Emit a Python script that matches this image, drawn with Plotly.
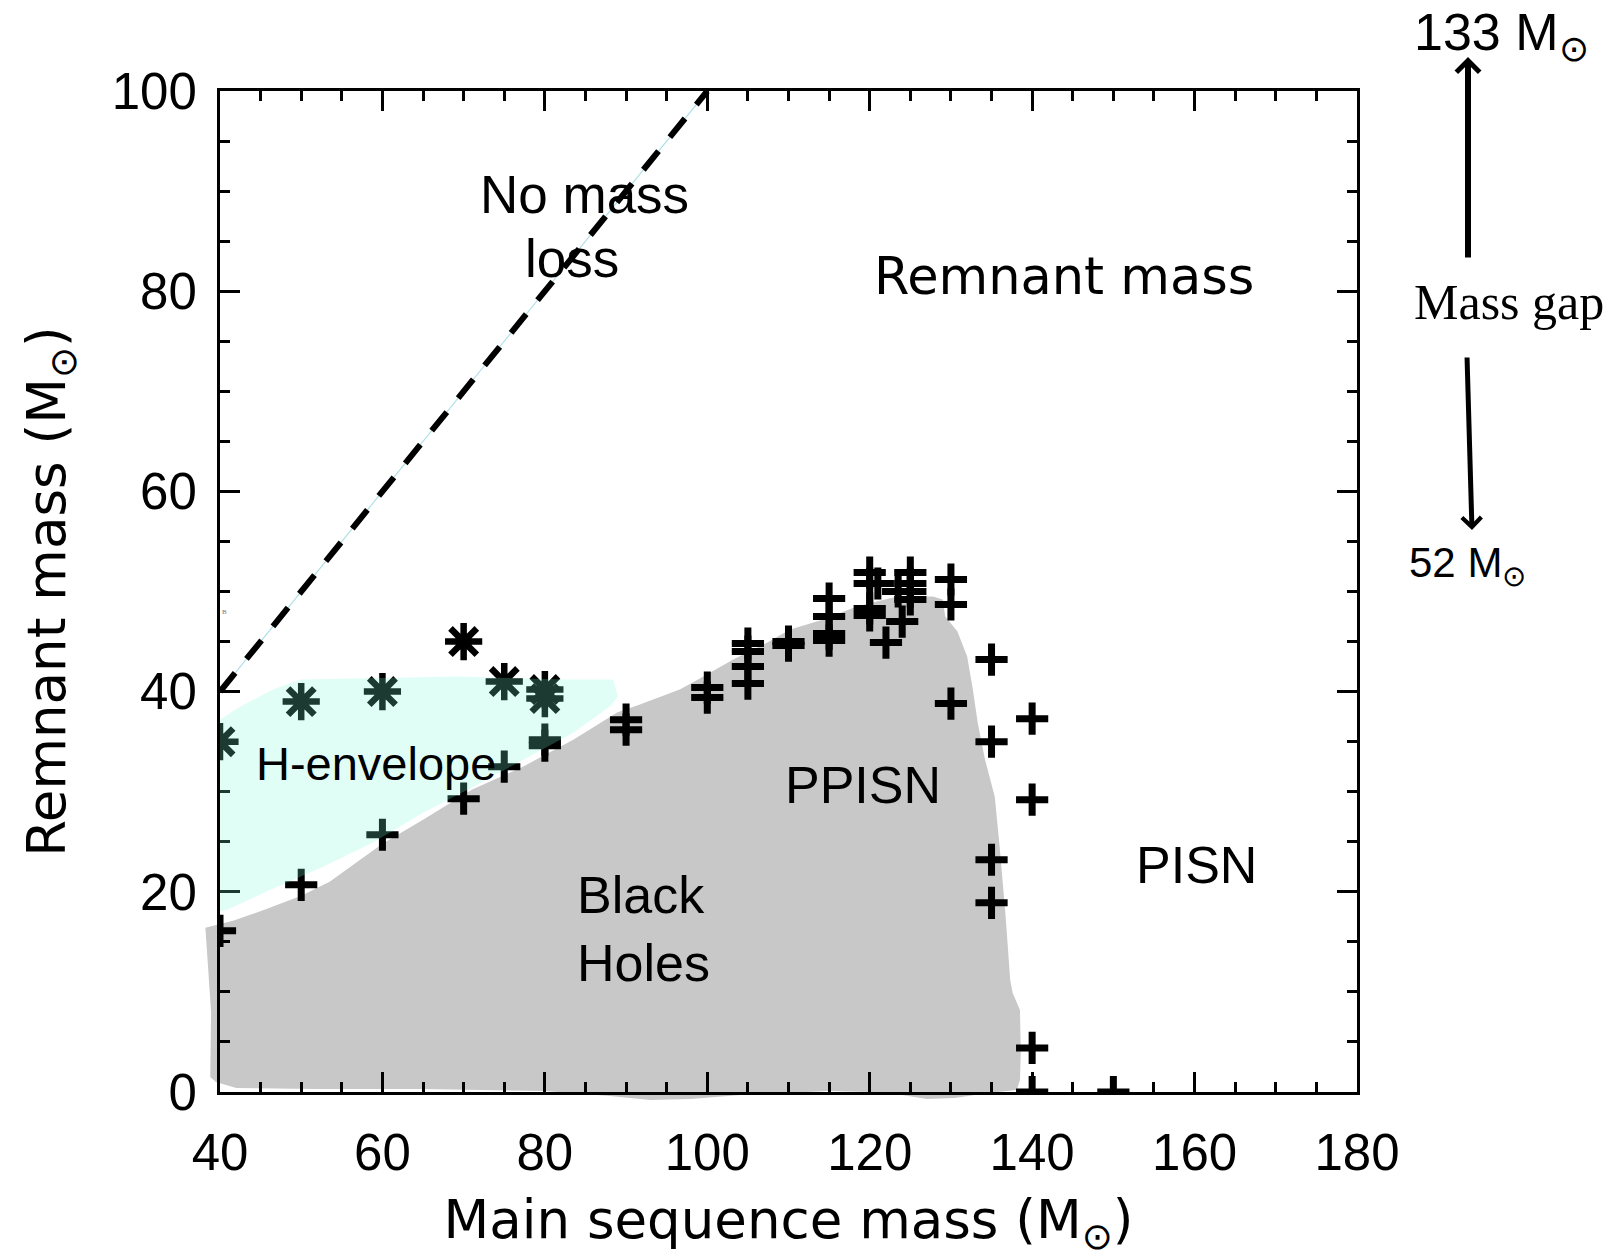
import plotly.graph_objects as go

# ---------------- data ----------------
# '+' models (main sequence mass, remnant mass)
plus_x = [40, 50, 60, 70, 75, 80, 80, 90, 90, 100, 100,
          105, 105, 105, 105, 110, 110,
          115, 115, 115, 115, 120, 120, 120, 120, 121, 122, 123.5, 124,
          125, 125, 125, 125, 130, 130, 130,
          135, 135, 135, 135, 140, 140, 140, 140, 150]
plus_y = [16.1, 20.7, 25.7, 29.3, 32.5, 35.2, 34.6, 37.2, 36.2, 40.4, 39.4,
          44.8, 44.0, 42.5, 40.8, 45.0, 44.6,
          49.3, 47.5, 45.8, 45.1, 51.9, 50.8, 48.3, 47.6, 50.8, 44.9, 50.0, 47.0,
          51.9, 50.8, 50.0, 49.2, 51.2, 48.7, 38.8,
          43.2, 35.0, 23.2, 18.9, 37.3, 29.2, 4.4, 0.0, 0.0]

# '*' models
ast_x = [40, 50, 60, 70, 75, 80, 80]
ast_y = [35.0, 39.0, 40.0, 45.0, 41.0, 40.2, 39.3]

# "No mass loss" line (remnant = main sequence mass)
diag_x = [40, 100]
diag_y = [40, 100]

# Black-hole (grey) region outline
bh_x = [38.2, 41.6, 45.8, 50.0, 53.5, 57.0, 60.0, 65.0, 71.0, 77.3, 83.5, 88.9, 91.7,
        96.6, 98.2, 103.2, 107.4, 110.2, 114.3, 118.4, 122.9, 127.8, 129.0, 129.3,
        130.8, 132.0, 132.7, 133.3, 134.2, 135.4, 136.0, 136.7, 137.3, 137.6, 138.5,
        138.6, 138.5, 138.1, 134.5, 130.5, 127.0, 124.0, 120.0, 115.0, 110.0, 104.0,
        98.0, 93.0, 88.0, 80.0, 65.0, 52.0, 42.0, 39.5, 38.8, 38.9, 38.4]
bh_y = [16.4, 17.1, 18.3, 19.6, 21.0, 23.0, 24.8, 27.2, 30.2, 32.5, 35.2, 37.9, 38.7,
        40.2, 40.9, 43.2, 44.9, 46.2, 47.2, 48.5, 49.4, 49.5, 49.2, 47.5,
        46.0, 43.5, 40.2, 36.9, 33.2, 29.5, 24.5, 17.9, 11.2, 9.9, 8.2,
        3.9, 1.2, 0.2, -0.1, -0.6, -0.7, -0.3, 0.0, 0.1, -0.1, -0.3,
        -0.7, -0.8, -0.4, 0.1, 0.3, 0.3, 0.4, 1.0, 1.5, 8.0, 14.0]

# H-envelope (cyan) region outline
henv_x = [39.5, 40.0, 42.5, 46.5, 49.9, 69.2, 82.7, 88.4, 89.0, 88.0, 83.5, 77.3,
          71.2, 65.0, 58.8, 52.7, 46.2, 40.9, 39.5]
henv_y = [37.2, 37.2, 38.5, 40.2, 41.2, 41.5, 41.2, 41.2, 39.5, 38.5, 35.9, 33.2,
          30.5, 27.9, 24.9, 22.5, 20.2, 18.2, 18.0]

x_ticks = [40, 60, 80, 100, 120, 140, 160, 180]
y_ticks = [0, 20, 40, 60, 80, 100]

# ---------------- geometry (pixels) ----------------
W, H = 1614, 1258
ML, MR, MT, MB = 200, 257, 91, 146
PW = W - ML - MR          # paper width
PH = H - MT - MB          # paper height
PAD = 20                  # extra room left/below the axes for the grey region
AX_W = PW - PAD
AX_H = PH - PAD
x_lo = 40 - PAD * (180 - 40) / AX_W
y_lo = 0 - PAD * (100 - 0) / AX_H

def px(xp):
    return (xp - ML) / PW

def py(yp):
    return (H - MB - yp) / PH

fig = go.Figure()

# grey black-hole region on a helper subplot that extends past the axes
fig.add_trace(go.Scatter(x=bh_x, y=bh_y, fill="toself", mode="lines",
                         line=dict(width=0, color="#c8c8c8"),
                         fillcolor="#c8c8c8", xaxis="x", yaxis="y",
                         hoverinfo="skip", showlegend=False))

# diagonal line
fig.add_trace(go.Scatter(x=diag_x, y=diag_y, mode="lines",
                         line=dict(color="rgb(176,224,230)", width=1.2),
                         xaxis="x2", yaxis="y2", showlegend=False, hoverinfo="skip"))
fig.add_trace(go.Scatter(x=diag_x, y=diag_y, mode="lines",
                         line=dict(color="black", width=6, dash="24px,18px"),
                         xaxis="x2", yaxis="y2", showlegend=False))

# markers
fig.add_trace(go.Scatter(x=plus_x, y=plus_y, mode="markers",
                         marker=dict(symbol="cross-thin", size=23,
                                     line=dict(color="black", width=7)),
                         xaxis="x2", yaxis="y2", showlegend=False))
fig.add_trace(go.Scatter(x=ast_x, y=ast_y, mode="markers",
                         marker=dict(symbol="asterisk", size=31,
                                     line=dict(color="black", width=6.5)),
                         xaxis="x2", yaxis="y2", showlegend=False))

# translucent H-envelope region (on top of markers)
fig.add_trace(go.Scatter(x=henv_x, y=henv_y, fill="toself", mode="lines",
                         line=dict(width=0, color="rgba(122,252,217,0.23)"),
                         fillcolor="rgba(122,252,217,0.23)",
                         xaxis="x2", yaxis="y2", hoverinfo="skip", showlegend=False))

tick_font = dict(family="Liberation Sans, Arial, sans-serif", size=51, color="black")
title_font = dict(family="DejaVu Sans, sans-serif", size=53, color="black")
label_font = dict(family="Liberation Sans, Arial, sans-serif", size=52, color="black")

axis_common = dict(showline=True, linecolor="black", linewidth=3, mirror="allticks",
                   ticks="inside", ticklen=20, tickwidth=3, tickcolor="black",
                   showgrid=False, zeroline=False, tickfont=tick_font,
                   minor=dict(ticks="inside", ticklen=10, tickwidth=3, dtick=5,
                              tickcolor="black", showgrid=False),
                   layer="below traces", automargin=False)

fig.update_layout(
    width=W, height=H,
    margin=dict(l=ML, r=MR, t=MT, b=MB, pad=0),
    paper_bgcolor="white", plot_bgcolor="rgba(0,0,0,0)",
    showlegend=False,
    xaxis=dict(domain=[0, 1], range=[x_lo, 180], visible=False, anchor="y",
               fixedrange=True),
    yaxis=dict(domain=[0, 1], range=[y_lo, 100], visible=False, anchor="x",
               fixedrange=True),
    xaxis2=dict(domain=[PAD / PW, 1], range=[40, 180], anchor="y2",
                tickvals=x_ticks, ticktext=[str(v) for v in x_ticks],
                ticklabelstandoff=14,
                title=dict(text="Main sequence mass (M<sub>⊙</sub>)",
                           font=title_font, standoff=26),
                **axis_common),
    yaxis2=dict(domain=[PAD / PH, 1], range=[0, 100], anchor="x2",
                tickvals=y_ticks, ticktext=[str(v) for v in y_ticks],
                ticklabelstandoff=10,
                title=dict(text="Remnant mass (M<sub>⊙</sub>)",
                           font=title_font, standoff=30),
                **axis_common),
)

sans = "Liberation Sans, Arial, sans-serif"
annotations = [
    dict(x=84.85, y=89.7, xref="x2", yref="y2", text="No mass",
         showarrow=False, font=dict(family=sans, size=53, color="black")),
    dict(x=83.3, y=83.3, xref="x2", yref="y2", text="loss",
         showarrow=False, font=dict(family=sans, size=53, color="black")),
    dict(x=143.9, y=81.5, xref="x2", yref="y2", text="Remnant mass",
         showarrow=False, font=dict(family="DejaVu Sans, sans-serif", size=51, color="black")),
    dict(x=59.2, y=32.8, xref="x2", yref="y2", text="H-envelope",
         showarrow=False, font=dict(family=sans, size=47, color="black")),
    dict(x=119.2, y=30.7, xref="x2", yref="y2", text="PPISN",
         showarrow=False, font=label_font),
    dict(x=92.1, y=16.3, xref="x2", yref="y2", text="Black<br>Holes", align="left",
         showarrow=False, font=label_font),
    dict(x=160.2, y=22.7, xref="x2", yref="y2", text="PISN",
         showarrow=False, font=label_font),
    dict(x=40.6, y=48.0, xref="x2", yref="y2", text="B",
         showarrow=False, font=dict(family="Liberation Serif, serif", size=7, color="#777")),
    # right-hand mass-gap annotation
    dict(x=px(1412), y=py(36), xref="paper", yref="paper", xanchor="left", yanchor="middle",
         text="133 M<sub>⊙</sub>", showarrow=False,
         font=dict(family=sans, size=52, color="black")),
    dict(x=px(1468), y=py(57), xref="paper", yref="paper", text="", showarrow=True,
         ax=0, ay=202, arrowhead=4, arrowsize=0.75, arrowwidth=6, arrowcolor="black"),
    dict(x=px(1509), y=py(302), xref="paper", yref="paper", xanchor="center",
         yanchor="middle", text="Mass gap", showarrow=False,
         font=dict(family="Liberation Serif, Times New Roman, serif", size=50, color="black")),
    dict(x=px(1472), y=py(530), xref="paper", yref="paper", text="", showarrow=True,
         ax=-5, ay=-174, arrowhead=4, arrowsize=0.75, arrowwidth=5, arrowcolor="black"),
    dict(x=px(1407), y=py(565), xref="paper", yref="paper", xanchor="left", yanchor="middle",
         text="52 M<sub>⊙</sub>", showarrow=False,
         font=dict(family=sans, size=42, color="black")),
]
fig.update_layout(annotations=annotations)

fig.write_html("out.html")
